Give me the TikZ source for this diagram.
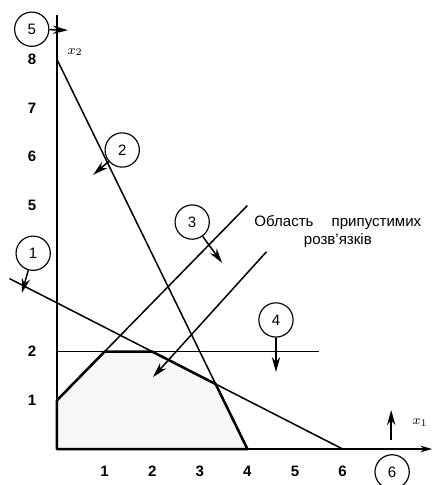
\documentclass[tikz,border=0pt]{standalone}
\usepackage{fontspec}
\setmainfont{Liberation Sans}
\usetikzlibrary{arrows.meta}

\tikzset{
  num/.style={draw, circle, minimum size=0.72cm, inner sep=0pt, font=\small, line width=0.7pt},
  lim/.style={line width=0.9pt},
  bound/.style={line width=1.5pt, line join=round},
  pointer/.style={line width=0.9pt, -{Stealth[length=9pt,width=5pt]}},
  tick/.style={font=\small\bfseries},
}

\begin{document}
\begin{tikzpicture}[x=1cm, y=1.023cm]
	\useasboundingbox (-1.197,-0.739) rectangle (7.941,9.220);

	% vertices of the region
	\coordinate (o) at (0,0);
	\coordinate (v1) at (0,1);
	\coordinate (v2) at (1,2);
	\coordinate (v3) at (2,2);
	\coordinate (v4) at (10/3,4/3);
	\coordinate (v5) at (4,0);

	\fill[black!3] (o) -- (v1) -- (v2) -- (v3) -- (v4) -- (v5) -- cycle;

	% axes
	\coordinate (xend) at (7.88,0);
	\coordinate (yend) at (0,8.91);
	\draw[lim, -{Stealth[length=7pt,width=4pt]}] (o) -- (xend);
	\draw[lim] (o) -- (yend);
	\node (xa) at (7.63,0.55) {\footnotesize $x_1$};
	\node (ya) at (0.38,8.15) {\footnotesize $x_2$};

	\foreach \i in {1,...,6}
		\node[tick] (tx\i) at (\i,-0.45) {\i};
	\foreach \j in {1,2,5,6,7,8}
		\node[tick] (ty\j) at (-0.525,\j) {\j};

	% constraint lines
	\coordinate (a1) at (-1,3.5);  \coordinate (b1) at (6,0);
	\coordinate (a2) at (0,8);     \coordinate (b2) at (4,0);
	\coordinate (a3) at (0,1);     \coordinate (b3) at (4,5);
	\coordinate (a4) at (0,2);     \coordinate (b4) at (5.5,2);
	\draw[lim] (a1) -- (b1);
	\draw[lim] (a2) -- (b2);
	\draw[lim] (a3) -- (b3);
	\draw[lim] (a4) -- (b4);

	\draw[bound] (o) -- (v1) -- (v2) -- (v3) -- (v4) -- (v5) -- cycle;

	% numbered constraints and their sides
	\node[num] (c1) at (-0.50,4.02) {1};
	\coordinate (t1) at (-0.74,3.20);
	\draw[pointer] (c1) -- (t1);

	\node[num] (c2) at (1.37,6.14) {2};
	\coordinate (t2) at (0.76,5.63);
	\draw[pointer] (c2) -- (t2);

	\node[num] (c3) at (2.84,4.66) {3};
	\coordinate (t3) at (3.47,3.82);
	\draw[pointer] (c3) -- (t3);

	\node[num] (c4) at (4.60,2.65) {4};
	\coordinate (t4) at (4.60,1.58);
	\draw[pointer] (c4) -- (t4);

	\node[num] (c5) at (-0.53,8.62) {5};
	\coordinate (t5) at (0.23,8.60);
	\draw[pointer] (c5) -- (t5);

	\node[num] (c6) at (7.04,-0.47) {6};
	\coordinate (s6) at (7.02,0.18);
	\coordinate (t6) at (7.02,0.80);
	\draw[pointer] (s6) -- (t6);

	% label of the region
	\node[align=center, font=\small] (area) at (5.9,4.47) {Область\hspace{1.2em}припустимих\\розв'язків};
	\coordinate (p0) at (4.40,4.05);
	\coordinate (p1) at (2.02,1.48);
	\draw[pointer] (p0) -- (p1);

\end{tikzpicture}
\end{document}
